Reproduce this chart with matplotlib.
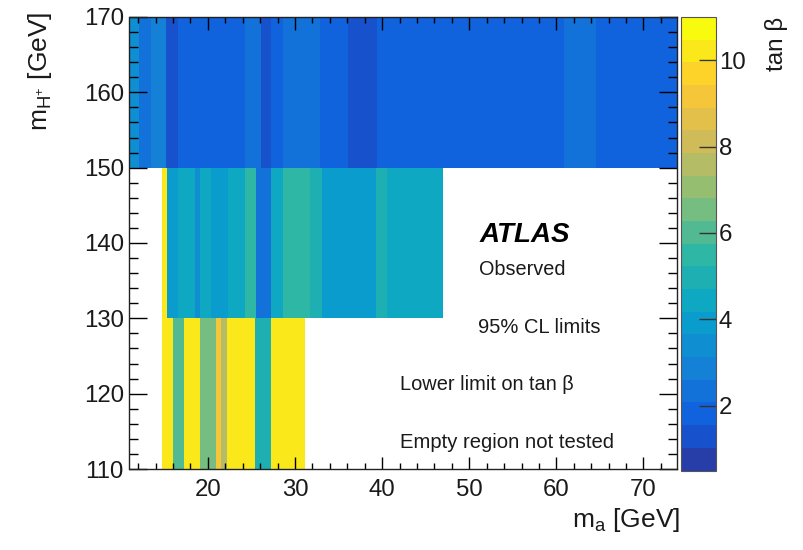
import numpy as np
import matplotlib
matplotlib.use("Agg")
import matplotlib.pyplot as plt
from matplotlib.colors import LinearSegmentedColormap, ListedColormap, BoundaryNorm
from matplotlib.cm import ScalarMappable
from matplotlib.ticker import MultipleLocator

plt.rcParams['font.family'] = ['Liberation Sans', 'DejaVu Sans']
plt.rcParams['mathtext.fontset'] = 'custom'
plt.rcParams['mathtext.rm'] = 'Liberation Sans'
plt.rcParams['mathtext.it'] = 'Liberation Sans:italic'

# m_H+ bands (GeV)
mh_band_160 = [150, 170]
mh_band_140 = [130, 150]
mh_band_120 = [110, 130]

# m_a bin edges (GeV) and observed lower limit on tan(beta) for each band
ma_edges_160 = [11.0, 12.14, 13.49, 15.21, 16.55, 24.22, 26.14, 27.3, 28.63,
                32.85, 36.1, 39.38, 60.85, 64.5, 73.85]
tanb_160 = [3.4, 2.3, 2.9, 1.3, 1.8, 2.3, 1.3, 1.8, 2.3, 1.8, 1.3, 1.8, 2.3, 1.8]

ma_edges_140 = [14.75, 15.25, 16.55, 18.47, 19.13, 20.39, 22.3, 24.22, 25.49,
                27.3, 28.58, 31.7, 33.05, 39.35, 40.53, 46.97]
tanb_140 = [10.2, 3.9, 4.4, 3.6, 4.4, 3.9, 4.4, 5.5, 2.3, 4.4, 5.5, 5.0, 3.9,
            5.0, 4.4]

ma_edges_120 = [14.75, 15.97, 17.24, 19.13, 20.97, 21.5, 22.2, 25.45, 27.3, 31.13]
tanb_120 = [10.2, 6.0, 10.2, 6.5, 9.2, 7.6, 10.2, 4.9, 10.2]

# colour scale: 20 contour levels between z_min and z_max
z_min, z_max, n_levels = 0.5, 11.0, 20
cbar_ticks = [2, 4, 6, 8, 10]
x_range = (11.0, 73.85)
y_range = (110, 170)

# ROOT "kBird" palette
stops = [0.0, 0.125, 0.25, 0.375, 0.5, 0.625, 0.75, 0.875, 1.0]
red = [0.2082, 0.0592, 0.0780, 0.0232, 0.1802, 0.5301, 0.8186, 0.9956, 0.9764]
green = [0.1664, 0.3599, 0.5041, 0.6419, 0.7178, 0.7492, 0.7328, 0.7862, 0.9832]
blue = [0.5293, 0.8684, 0.8385, 0.7914, 0.6425, 0.4662, 0.3499, 0.1968, 0.0539]
bird = LinearSegmentedColormap.from_list(
    "bird", list(zip(stops, zip(red, green, blue))), N=256)
samples = [min((i + 0.99) / n_levels, 1.0) for i in range(n_levels)]
cmap = ListedColormap([bird(s) for s in samples])
levels = np.linspace(z_min, z_max, n_levels + 1)
norm = BoundaryNorm(levels, n_levels)

W, H = 804, 550
fig = plt.figure(figsize=(W / 100, H / 100), dpi=100)


def fx(px):
    return px / W


def fy(py):
    return 1 - py / H


ax = fig.add_axes([fx(129.5), fy(469), fx(677) - fx(129.5), fy(17) - fy(469)])

for edges, band, vals in [(ma_edges_160, mh_band_160, tanb_160),
                          (ma_edges_140, mh_band_140, tanb_140),
                          (ma_edges_120, mh_band_120, tanb_120)]:
    ax.pcolormesh(np.array(edges), np.array(band), np.array([vals]),
                  cmap=cmap, norm=norm, shading='flat',
                  antialiased=False, linewidth=0, edgecolors='face')

ax.set_xlim(*x_range)
ax.set_ylim(*y_range)
ax.xaxis.set_major_locator(MultipleLocator(10))
ax.xaxis.set_minor_locator(MultipleLocator(2))
ax.yaxis.set_major_locator(MultipleLocator(10))
ax.yaxis.set_minor_locator(MultipleLocator(2))
ax.tick_params(which='both', direction='in', top=True, right=True,
               width=1.0, color='black', labelsize=17.3, labelcolor='#1a1a1a')
ax.xaxis.set_tick_params(which='major', length=9, pad=7)
ax.xaxis.set_tick_params(which='minor', length=4.5)
ax.yaxis.set_tick_params(which='major', length=13, pad=4)
ax.yaxis.set_tick_params(which='minor', length=6.5)
for s in ax.spines.values():
    s.set_linewidth(1.0)
    s.set_color('#222222')

# colour bar
cax = fig.add_axes([fx(681.5), fy(470.5), fx(716) - fx(681.5), fy(17) - fy(470.5)])
sm = ScalarMappable(norm=norm, cmap=cmap)
cb = fig.colorbar(sm, cax=cax, ticks=cbar_ticks, spacing='proportional')
cb.outline.set_linewidth(0.8)
cb.outline.set_edgecolor('#555555')
cax.minorticks_off()
cax.yaxis.set_ticks_position('right')
cax.tick_params(direction='in', length=12.5, width=1.0, color='#333333',
                labelsize=17.3, labelcolor='#1a1a1a', pad=2)

# axis titles
fig.text(fx(680), fy(527), r'$\mathregular{m_{a}}$ [GeV]', ha='right',
         va='baseline', fontsize=19, color='#1a1a1a')
fig.text(fx(40), fy(12), r'$\mathregular{m_{H^{+}}}$ [GeV]', ha='center',
         va='top', rotation=90, fontsize=19, color='#1a1a1a')
fig.text(fx(777), fy(17), 'tan β', ha='center', va='top', rotation=90,
         fontsize=17.5, color='#1a1a1a')

# annotations
fig.text(fx(480), fy(241.5), 'ATLAS', fontsize=20, fontweight='bold',
         fontstyle='italic', va='baseline')
fig.text(fx(479), fy(275), 'Observed', fontsize=14.3, va='baseline',
         color='#1a1a1a')
fig.text(fx(478), fy(333), '95% CL limits', fontsize=14.5, va='baseline',
         color='#1a1a1a')
fig.text(fx(400), fy(390.5), 'Lower limit on tan β', fontsize=14.4,
         va='baseline', color='#1a1a1a')
fig.text(fx(400), fy(448), 'Empty region not tested', fontsize=14.6,
         va='baseline', color='#1a1a1a')

fig.savefig('out.png', dpi=100)
